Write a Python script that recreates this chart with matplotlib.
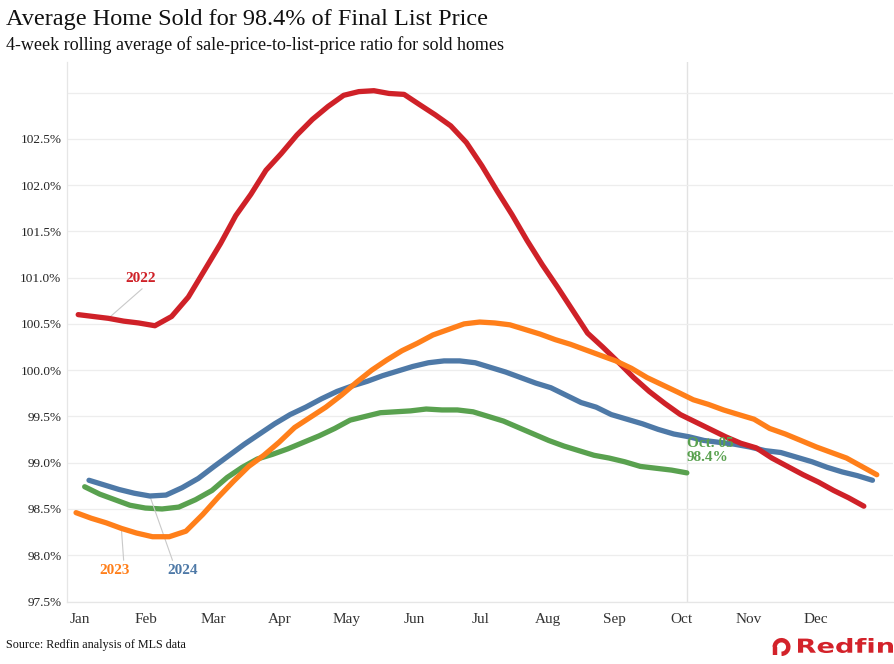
import pandas as pd
import matplotlib
matplotlib.use('Agg')
import matplotlib.pyplot as plt
from matplotlib.patches import Arc, PathPatch
from matplotlib.textpath import TextPath
from matplotlib.font_manager import FontProperties
from matplotlib.transforms import Affine2D
from matplotlib.lines import Line2D

plt.rcParams['font.family'] = ['Liberation Serif', 'DejaVu Serif']

# weekly values (week ending on Sunday)
start_2022 = '2022-01-02'
ratio_2022 = [100.60, 100.58, 100.56, 100.53, 100.51, 100.48, 100.58, 100.79, 101.09, 101.37,
              101.67, 101.90, 102.16, 102.34, 102.54, 102.71, 102.85, 102.97, 103.01, 103.02,
              102.99, 102.98, 102.87, 102.76, 102.64, 102.46, 102.21, 101.94, 101.68, 101.40,
              101.14, 100.90, 100.65, 100.40, 100.25, 100.09, 99.92, 99.77, 99.64, 99.52,
              99.44, 99.36, 99.28, 99.21, 99.16, 99.05, 98.96, 98.87, 98.79, 98.70,
              98.62, 98.53]

start_2023 = '2023-01-01'
ratio_2023 = [98.46, 98.40, 98.35, 98.29, 98.24, 98.20, 98.20, 98.26, 98.44, 98.63,
              98.80, 98.96, 99.08, 99.22, 99.38, 99.49, 99.60, 99.73, 99.87, 100.00,
              100.11, 100.21, 100.29, 100.38, 100.44, 100.50, 100.52, 100.51, 100.49, 100.44,
              100.39, 100.33, 100.28, 100.22, 100.16, 100.10, 100.02, 99.92, 99.84, 99.76,
              99.68, 99.63, 99.57, 99.52, 99.47, 99.37, 99.31, 99.24, 99.17, 99.11,
              99.05, 98.96, 98.87]

start_2024 = '2024-01-07'
ratio_2024 = [98.81, 98.76, 98.71, 98.67, 98.64, 98.65, 98.73, 98.83, 98.96, 99.08,
              99.20, 99.31, 99.42, 99.52, 99.60, 99.69, 99.77, 99.83, 99.88, 99.94,
              99.99, 100.04, 100.08, 100.10, 100.10, 100.08, 100.03, 99.98, 99.92, 99.86,
              99.81, 99.73, 99.65, 99.60, 99.52, 99.47, 99.42, 99.36, 99.31, 99.28,
              99.24, 99.22, 99.20, 99.17, 99.13, 99.11, 99.06, 99.01, 98.95, 98.90,
              98.86, 98.81]

start_2025 = '2025-01-05'
ratio_2025 = [98.74, 98.66, 98.60, 98.54, 98.51, 98.50, 98.52, 98.60, 98.70, 98.84,
              98.95, 99.04, 99.09, 99.15, 99.22, 99.29, 99.37, 99.46, 99.50, 99.54,
              99.55, 99.56, 99.58, 99.57, 99.57, 99.55, 99.50, 99.45, 99.38, 99.31,
              99.24, 99.18, 99.13, 99.08, 99.05, 99.01, 98.96, 98.94, 98.92, 98.89]

months = ['Jan', 'Feb', 'Mar', 'Apr', 'May', 'Jun', 'Jul', 'Aug', 'Sep', 'Oct', 'Nov', 'Dec']
y_ticks = [97.5, 98.0, 98.5, 99.0, 99.5, 100.0, 100.5, 101.0, 101.5, 102.0, 102.5, 103.0]

RED = '#cf2128'
ORANGE = '#ff7f1a'
BLUE = '#4e79a7'
GREEN = '#59a14f'
LEADER = '#c9c9c9'
LOGO = '#d3222a'

W, H = 895, 664


def month_pos(start, n):
    # position on a Jan..Dec axis where every month has the same width
    d = pd.date_range(start, periods=n, freq='7D')
    return ((d.month - 1) + (d.day - 1) / d.days_in_month).to_numpy()


x22 = month_pos(start_2022, len(ratio_2022))
x23 = month_pos(start_2023, len(ratio_2023))
x24 = month_pos(start_2024, len(ratio_2024))
x25 = month_pos(start_2025, len(ratio_2025))

fig = plt.figure(figsize=(W / 100, H / 100), dpi=100)
ax = fig.add_axes([67 / W, 1 - 601.5 / H, 826 / W, 539.5 / H])

ax.plot(x25, ratio_2025, color=GREEN, lw=3.8, solid_capstyle='round', zorder=3)
ax.plot(x24, ratio_2024, color=BLUE, lw=3.8, solid_capstyle='round', zorder=4)
ax.plot(x22, ratio_2022, color=RED, lw=3.8, solid_capstyle='round', zorder=5)
ax.plot(x23, ratio_2023, color=ORANGE, lw=3.8, solid_capstyle='round', zorder=6)

# marker for the latest week
ax.axvline(x25[-1], color='#e2e2e2', lw=1, zorder=1)

ax.set_xlim(-0.135, 12.21)
ax.set_ylim(97.5, 103.33)
ax.set_xticks([i + 0.05 for i in range(12)])
ax.set_xticklabels(months)
ax.set_yticks(y_ticks)
ax.set_yticklabels(['%.1f%%' % v if v < 103 else '' for v in y_ticks])
ax.tick_params(axis='x', length=0, pad=8, labelsize=11, labelcolor='#333333')
ax.tick_params(axis='y', length=0, pad=4, labelsize=9.5, labelcolor='#222222')
ax.grid(axis='y', color='#ededed', lw=0.9, zorder=0)
for side in ['top', 'right']:
    ax.spines[side].set_visible(False)
for side in ['left', 'bottom']:
    ax.spines[side].set_color('#e6e6e6')
    ax.spines[side].set_linewidth(0.9)

# year labels with leader lines
lead = dict(arrowstyle='-', color=LEADER, lw=0.8, shrinkA=1, shrinkB=2)
ax.annotate('2022', xy=(x22[2], ratio_2022[2]), xytext=(0.96, 100.99),
            ha='center', va='center', fontsize=11, fontweight='bold', color=RED,
            arrowprops=dict(lead, relpos=(0.7, 0.0)))
ax.annotate('2023', xy=(x23[3], ratio_2023[3]), xytext=(0.58, 97.83),
            ha='center', va='center', fontsize=11, fontweight='bold', color=ORANGE,
            arrowprops=dict(lead, relpos=(0.8, 1.0)))
ax.annotate('2024', xy=(x24[4], ratio_2024[4]), xytext=(1.6, 97.83),
            ha='center', va='center', fontsize=11, fontweight='bold', color=BLUE,
            arrowprops=dict(lead, relpos=(0.2, 1.0)))
ax.annotate('Oct. 05\n98.4%', xy=(x25[-1], ratio_2025[-1]), xytext=(0, 16),
            textcoords='offset points', ha='left', va='center', fontsize=11,
            fontweight='bold', color=GREEN, linespacing=1.15, zorder=7)

fig.text(6 / W, 1 - 19 / H, 'Average Home Sold for 98.4% of Final List Price',
         fontsize=17.5, color='#111111', va='center', ha='left')
fig.text(6 / W, 1 - 45 / H,
         '4-week rolling average of sale-price-to-list-price ratio for sold homes',
         fontsize=13, color='#111111', va='center', ha='left')
fig.text(6 / W, 1 - 645 / H, 'Source: Redfin analysis of MLS data',
         fontsize=8.7, color='#111111', va='center', ha='left')

# Redfin logo: wordmark stretched into its box, plus the ring icon
tp = TextPath((0, 0), 'Redfin', size=1, prop=FontProperties(family='DejaVu Sans', weight='bold'))
ext = tp.get_extents()
x0, x1, ytop, ybot = 798, 893, 638, 653
sx = (x1 - x0) / W / ext.width
sy = (ytop - ybot) / H / ext.height
word = Affine2D().translate(-ext.x0, -ext.y0).scale(sx, -sy).translate(x0 / W, 1 - ybot / H)
fig.patches.append(PathPatch(tp, transform=word + fig.transFigure, color=LOGO, lw=0))
cx, cy, r = 781.5, 647, 6.8
fig.patches.append(Arc((cx / W, 1 - cy / H), 2 * r / W, 2 * r / H, theta1=-90, theta2=180,
                       lw=3.2, color=LOGO, transform=fig.transFigure))
fig.lines.append(Line2D([(cx - r) / W, (cx - r) / W], [1 - cy / H, 1 - (cy + r + 1.5) / H],
                        lw=3.2, color=LOGO, solid_capstyle='butt', transform=fig.transFigure))

fig.savefig('out.png', dpi=100)
